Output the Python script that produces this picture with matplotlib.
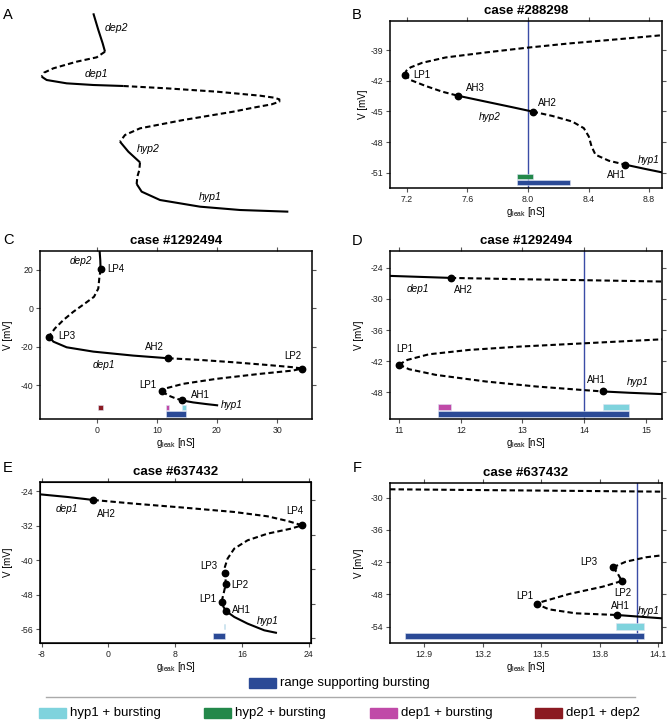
import matplotlib
matplotlib.use('Agg')
import matplotlib.pyplot as plt
from matplotlib.patches import Rectangle
from matplotlib.lines import Line2D

plt.rcParams['font.family'] = ['Liberation Sans', 'DejaVu Sans']
plt.rcParams['mathtext.fontset'] = 'custom'
plt.rcParams['mathtext.rm'] = 'Liberation Sans'
plt.rcParams['mathtext.it'] = 'Liberation Sans:italic'

# ---------------- data ----------------
# Panel A (schematic, arbitrary units)
A_dep2_x = [280, 295, 308, 315]; A_dep2_y = [40, 90, 130, 155]
A_u1_x = [315, 290, 230, 160, 132, 125]; A_u1_y = [155, 172, 185, 205, 218, 230]
A_dep1_x = [125, 140, 200, 280, 370]; A_dep1_y = [230, 240, 250, 255, 258]
A_u2_x = [370, 500, 650, 780, 822, 838, 838, 815, 760, 700, 550, 420, 375, 360]
A_u2_y = [258, 265, 275, 287, 293, 298, 305, 313, 323, 335, 360, 385, 405, 425]
A_hyp2_x = [360, 385, 410, 420]; A_hyp2_y = [425, 455, 478, 487]
A_u3_x = [420, 418, 412, 410]; A_u3_y = [487, 510, 530, 552]
A_hyp1_x = [410, 425, 480, 600, 720, 865]; A_hyp1_y = [552, 575, 600, 620, 630, 635]

# Panel B: case #288298
B_up_g = [7.187, 7.198, 7.226, 7.303, 7.457, 7.721, 7.991, 8.270, 8.600, 8.885]
B_up_v = [-41.41, -41.02, -40.69, -40.24, -39.72, -39.23, -38.77, -38.35, -37.93, -37.54]
B_lo_g = [7.187, 7.226, 7.325, 7.435, 7.536]
B_lo_v = [-41.41, -41.93, -42.51, -43.07, -43.46]
B_hyp2_g = [7.536, 7.721, 7.897, 8.031]
B_hyp2_v = [-43.46, -44.04, -44.59, -45.02]
B_mid_g = [8.031, 8.160, 8.292, 8.369, 8.402, 8.420, 8.446, 8.534, 8.644]
B_mid_v = [-45.02, -45.44, -45.99, -46.64, -47.46, -48.43, -49.24, -49.83, -50.22]
B_hyp1_g = [8.644, 8.776, 8.885]
B_hyp1_v = [-50.22, -50.64, -50.97]
B_pt_names = ['LP1', 'AH3', 'AH2', 'AH1']
B_pt_g = [7.187, 7.536, 8.031, 8.644]
B_pt_v = [-41.41, -43.46, -45.02, -50.22]
B_lab_g = [7.297, 7.655, 8.132, 8.582]
B_lab_v = [-41.41, -42.71, -44.14, -51.20]
B_br_names = ['hyp2', 'hyp1']
B_br_g = [7.747, 8.798]
B_br_v = [-45.5, -49.8]
B_bar_cat = ['hyp2', 'burst']
B_bar_g0 = [7.925, 7.925]; B_bar_g1 = [8.035, 8.277]
B_bar_v0 = [-51.10, -51.72]; B_bar_v1 = [-51.59, -52.24]
B_vline = 8.0

# Panel C: case #1292494
C_dep2_g = [0.50, 0.61, 0.66]
C_dep2_v = [29.83, 25.0, 20.34]
C_u1_g = [0.66, 0.44, 0.28, -0.44, -1.94, -3.87, -5.53, -6.92, -7.75, -7.86]
C_u1_v = [20.34, 15.52, 10.34, 6.03, 2.59, -1.72, -6.03, -10.34, -13.79, -14.66]
C_dep1_g = [-7.86, -7.19, -4.98, -0.55, 6.09, 11.90]
C_dep1_v = [-14.66, -17.24, -20.17, -22.41, -24.48, -25.86]
C_u2_g = [11.90, 17.16, 22.69, 28.22, 32.65, 34.09, 32.65, 27.12, 19.92, 14.39, 11.62, 10.90]
C_u2_v = [-25.86, -26.72, -27.93, -29.31, -30.52, -31.21, -32.24, -33.97, -36.55, -39.14, -41.38, -43.10]
C_u3_g = [10.90, 11.90, 13.01, 14.22]
C_u3_v = [-43.10, -45.17, -46.55, -47.76]
C_hyp1_g = [14.22, 16.05, 18.26, 20.20]
C_hyp1_v = [-47.76, -48.79, -49.66, -50.34]
C_pt_names = ['LP4', 'LP3', 'AH2', 'LP2', 'LP1', 'AH1']
C_pt_g = [0.66, -7.86, 11.90, 34.09, 10.90, 14.22]
C_pt_v = [20.34, -14.66, -25.86, -31.21, -43.10, -47.76]
C_lab_g = [3.21, -4.98, 9.57, 32.65, 8.47, 17.21]
C_lab_v = [20.34, -14.31, -20.17, -24.66, -39.66, -45.17]
C_br_names = ['dep2', 'dep1', 'hyp1']
C_br_g = [-2.60, 1.27, 22.52]
C_br_v = [24.66, -29.31, -50.34]
C_bar_cat = ['dep12', 'dep1', 'hyp1', 'burst']
C_bar_g0 = [0.17, 11.45, 14.22, 11.45]; C_bar_g1 = [0.99, 11.95, 14.78, 14.78]
C_bar_v0 = [-50.34, -50.0, -50.0, -53.45]; C_bar_v1 = [-52.93, -52.6, -52.6, -56.38]

# Panel D: case #1292494 (zoom)
D_dep1_g = [10.854, 11.838]
D_dep1_v = [-25.54, -25.93]
D_u1_g = [11.838, 12.946, 14.0, 15.26]
D_u1_v = [-25.93, -26.18, -26.37, -26.63]
D_u2_g = [11.0, 11.135, 11.486, 12.135, 12.946, 14.0, 15.26]
D_u2_v = [-42.68, -41.78, -40.69, -39.85, -39.21, -38.57, -37.80]
D_u3_g = [11.0, 11.162, 11.595, 12.405, 13.216, 14.0, 14.308]
D_u3_v = [-42.68, -43.58, -44.67, -45.95, -46.91, -47.62, -47.88]
D_hyp1_g = [14.308, 14.730, 15.26]
D_hyp1_v = [-47.88, -48.13, -48.39]
D_pt_names = ['AH2', 'LP1', 'AH1']
D_pt_g = [11.838, 11.0, 14.308]
D_pt_v = [-25.93, -42.68, -47.88]
D_lab_g = [12.038, 11.097, 14.19]
D_lab_v = [-28.30, -39.66, -45.63]
D_br_names = ['dep1', 'hyp1']
D_br_g = [11.308, 14.865]
D_br_v = [-28.17, -46.02]
D_bar_cat = ['dep1', 'hyp1', 'burst']
D_bar_g0 = [11.638, 14.308, 11.638]; D_bar_g1 = [11.838, 14.73, 14.73]
D_bar_v0 = [-50.38, -50.38, -51.73]; D_bar_v1 = [-51.41, -51.41, -52.82]
D_vline = 14.0

# Panel E: case #637432
E_dep1_g = [-8.2, -4.92, -1.8]
E_dep1_v = [-24.70, -25.31, -26.01]
E_u1_g = [-1.8, 3.08, 9.08, 15.08, 19.08, 21.48, 23.2, 21.88, 19.08, 16.68, 15.08, 14.28,
          13.96, 13.96, 14.08, 13.8, 13.56, 13.8, 14.08]
E_u1_v = [-26.01, -26.86, -27.79, -28.79, -29.80, -30.88, -31.88, -32.66, -33.81, -35.36,
          -37.29, -39.61, -41.54, -42.86, -45.41, -47.73, -49.66, -50.82, -51.74]
E_hyp1_g = [14.08, 15.08, 16.68, 18.68, 20.2]
E_hyp1_v = [-51.74, -53.13, -54.68, -56.23, -56.84]
E_pt_names = ['AH2', 'LP4', 'LP3', 'LP2', 'LP1', 'AH1']
E_pt_g = [-1.8, 23.2, 13.96, 14.08, 13.56, 14.08]
E_pt_v = [-26.01, -31.88, -42.86, -45.41, -49.66, -51.74]
E_lab_g = [-0.2, 22.28, 12.08, 15.8, 11.96, 15.96]
E_lab_v = [-29.33, -28.64, -41.39, -45.64, -48.88, -51.43]
E_br_names = ['dep1', 'hyp1']
E_br_g = [-5.0, 19.08]
E_br_v = [-28.1, -54.06]
E_bar_cat = ['hyp1', 'burst']
E_bar_g0 = [13.84, 12.52]; E_bar_g1 = [13.96, 13.96]
E_bar_v0 = [-54.68, -56.84]; E_bar_v1 = [-56.0, -58.31]

# Panel F: case #637432 (zoom)
F_top_g = [12.724, 13.4, 14.12]
F_top_v = [-28.44, -28.65, -28.88]
F_u1_g = [13.869, 13.934, 14.037, 14.12]
F_u1_v = [-42.95, -41.91, -41.09, -40.72]
F_u2_g = [13.869, 13.892, 13.914, 13.815, 13.643, 13.506, 13.477, 13.540, 13.677, 13.888]
F_u2_v = [-42.95, -44.07, -45.50, -46.56, -47.92, -49.35, -49.78, -50.77, -51.51, -51.82]
F_hyp1_g = [13.888, 14.12]
F_hyp1_v = [-51.82, -52.44]
F_pt_names = ['LP3', 'LP2', 'LP1', 'AH1']
F_pt_g = [13.869, 13.914, 13.477, 13.888]
F_pt_v = [-42.95, -45.50, -49.78, -51.82]
F_lab_g = [13.746, 13.917, 13.416, 13.905]
F_lab_v = [-41.91, -47.79, -48.29, -50.09]
F_br_names = ['hyp1']
F_br_g = [14.054]
F_br_v = [-51.02]
F_bar_cat = ['hyp1', 'burst']
F_bar_g0 = [13.883, 12.801]; F_bar_g1 = [14.028, 14.028]
F_bar_v0 = [-53.37, -55.12]; F_bar_v1 = [-54.61, -56.34]
F_vline = 13.99

legend_cats = ['hyp1', 'hyp2', 'dep1', 'dep12']
legend_labels = ['hyp1 + bursting', 'hyp2 + bursting', 'dep1 + bursting', 'dep1 + dep2']
burst_label = 'range supporting bursting'

# ---------------- style ----------------
COL = {'burst': '#2b4a96', 'hyp1': '#7fd3dd', 'hyp2': '#23884a',
       'dep1': '#c04aa8', 'dep12': '#8b1a22'}
VLINE_COL = '#3a4ca6'
LW = 1.5
DASH = (0, (2.6, 1.5))

W, H = 672, 723
fig = plt.figure(figsize=(W / 100, H / 100), dpi=100)


def ax_px(l, t, r, b):
    return fig.add_axes([l / W, 1 - b / H, (r - l) / W, (b - t) / H])


def line(ax, g, v, stable):
    ax.plot(g, v, color='black', lw=LW, ls='-' if stable else DASH,
            solid_capstyle='butt', dash_capstyle='butt', zorder=3)


def setup(ax, xlim, ylim, xticks, xtl, yticks, title, ylab_x_px, left_px):
    ax.set_xlim(*xlim)
    ax.set_ylim(*ylim)
    ax.set_xticks(xticks)
    ax.set_xticklabels(xtl)
    ax.set_yticks(yticks)
    ax.set_yticklabels([str(t) for t in yticks])
    ax.tick_params(direction='out', length=3, width=0.8, top=True, right=True,
                   labelsize=6.3, pad=2, color='#555555', labelcolor='#222222')
    for s in ax.spines.values():
        s.set_linewidth(1.1)
    ax.set_title(title, fontsize=9.5, fontweight='bold', pad=5)
    ax.set_xlabel(r'g$_{\mathrm{leak}}$ [nS]', fontsize=7, labelpad=1)
    ax.set_ylabel('V [mV]', fontsize=7)
    ax.yaxis.set_label_coords((ylab_x_px - left_px) / 272.0, 0.5)


def decorate(ax, pt_names, pt_g, pt_v, lab_g, lab_v, br_names, br_g, br_v,
             bar_cat, g0, g1, v0, v1, vline=None):
    ax.plot(pt_g, pt_v, 'o', color='black', ms=4.6, zorder=5)
    for n, x, y in zip(pt_names, lab_g, lab_v):
        ax.text(x, y, n, fontsize=7, ha='center', va='center', zorder=6)
    for n, x, y in zip(br_names, br_g, br_v):
        ax.text(x, y, n, fontsize=7.2, style='italic', ha='center', va='center', zorder=6)
    for c, a, b, lo, hi in zip(bar_cat, g0, g1, v0, v1):
        ax.barh((lo + hi) / 2, b - a, left=a, height=abs(hi - lo), color=COL[c],
                edgecolor='#dde4f2', linewidth=0.4, zorder=2)
    if vline is not None:
        ax.axvline(vline, color=VLINE_COL, lw=1.0, zorder=1)


# ---------------- Panel A ----------------
axA = ax_px(0, 0, 336, 240)
axA.set_xlim(0, 1008)
axA.set_ylim(720, 0)
axA.axis('off')
line(axA, A_dep2_x, A_dep2_y, True)
line(axA, A_u1_x, A_u1_y, False)
line(axA, A_dep1_x, A_dep1_y, True)
line(axA, A_u2_x, A_u2_y, False)
line(axA, A_hyp2_x, A_hyp2_y, True)
line(axA, A_u3_x, A_u3_y, False)
line(axA, A_hyp1_x, A_hyp1_y, True)
for n, x, y in zip(['dep2', 'dep1', 'hyp2', 'hyp1'], [348, 290, 445, 630], [85, 222, 448, 590]):
    axA.text(x, y, n, fontsize=7.6, style='italic', ha='center', va='center')

# ---------------- Panel B ----------------
axB = ax_px(390, 21, 662, 188)
line(axB, B_up_g, B_up_v, False)
line(axB, B_lo_g, B_lo_v, False)
line(axB, B_hyp2_g, B_hyp2_v, True)
line(axB, B_mid_g, B_mid_v, False)
line(axB, B_hyp1_g, B_hyp1_v, True)
decorate(axB, B_pt_names, B_pt_g, B_pt_v, B_lab_g, B_lab_v, B_br_names, B_br_g, B_br_v,
         B_bar_cat, B_bar_g0, B_bar_g1, B_bar_v0, B_bar_v1, B_vline)
setup(axB, (7.09, 8.885), (-52.5, -36.15), [7.2, 7.6, 8.0, 8.4, 8.8],
      ['7.2', '7.6', '8.0', '8.4', '8.8'], [-39, -42, -45, -48, -51], 'case #288298', 368, 390)

# ---------------- Panel C ----------------
axC = ax_px(40, 251, 312, 419)
line(axC, C_dep2_g, C_dep2_v, True)
line(axC, C_u1_g, C_u1_v, False)
line(axC, C_dep1_g, C_dep1_v, True)
line(axC, C_u2_g, C_u2_v, False)
line(axC, C_u3_g, C_u3_v, False)
line(axC, C_hyp1_g, C_hyp1_v, True)
decorate(axC, C_pt_names, C_pt_g, C_pt_v, C_lab_g, C_lab_v, C_br_names, C_br_g, C_br_v,
         C_bar_cat, C_bar_g0, C_bar_g1, C_bar_v0, C_bar_v1)
setup(axC, (-9.41, 35.8), (-57.4, 29.83), [0, 10, 20, 30], ['0', '10', '20', '30'],
      [20, 0, -20, -40], 'case #1292494', 13, 40)

# ---------------- Panel D ----------------
axD = ax_px(390, 251, 662, 419)
line(axD, D_dep1_g, D_dep1_v, True)
line(axD, D_u1_g, D_u1_v, False)
line(axD, D_u2_g, D_u2_v, False)
line(axD, D_u3_g, D_u3_v, False)
line(axD, D_hyp1_g, D_hyp1_v, True)
decorate(axD, D_pt_names, D_pt_g, D_pt_v, D_lab_g, D_lab_v, D_br_names, D_br_g, D_br_v,
         D_bar_cat, D_bar_g0, D_bar_g1, D_bar_v0, D_bar_v1, D_vline)
setup(axD, (10.854, 15.26), (-53.2, -20.73), [11, 12, 13, 14, 15],
      ['11', '12', '13', '14', '15'], [-24, -30, -36, -42, -48], 'case #1292494', 364, 390)

# ---------------- Panel E ----------------
axE = ax_px(40, 482, 311, 643)
line(axE, E_dep1_g, E_dep1_v, True)
line(axE, E_u1_g, E_u1_v, False)
line(axE, E_hyp1_g, E_hyp1_v, True)
decorate(axE, E_pt_names, E_pt_g, E_pt_v, E_lab_g, E_lab_v, E_br_names, E_br_g, E_br_v,
         E_bar_cat, E_bar_g0, E_bar_g1, E_bar_v0, E_bar_v1)
setup(axE, (-8.2, 24.28), (-59.17, -21.84), [-8, 0, 8, 16, 24],
      ['-8', '0', '8', '16', '24'], [-24, -32, -40, -48, -56], 'case #637432', 13, 40)
axE.tick_params(right=False)
axE2 = axE.twinx()
axE2.set_ylim(-59.17 + 2.1, -21.84 + 2.1)
axE2.set_yticks([-24, -32, -40, -48, -56])
axE2.tick_params(direction='out', length=3, width=0.8, labelright=False, color='#555555')

# ---------------- Panel F ----------------
axF = ax_px(390, 483, 662, 643)
line(axF, F_top_g, F_top_v, False)
line(axF, F_u1_g, F_u1_v, False)
line(axF, F_u2_g, F_u2_v, False)
line(axF, F_hyp1_g, F_hyp1_v, True)
decorate(axF, F_pt_names, F_pt_g, F_pt_v, F_lab_g, F_lab_v, F_br_names, F_br_g, F_br_v,
         F_bar_cat, F_bar_g0, F_bar_g1, F_bar_v0, F_bar_v1, F_vline)
setup(axF, (12.724, 14.12), (-57.03, -27.27), [12.9, 13.2, 13.5, 13.8, 14.1],
      ['12.9', '13.2', '13.5', '13.8', '14.1'], [-30, -36, -42, -48, -54], 'case #637432', 364, 390)

# ---------------- panel letters ----------------
for L, x, y in [('A', 8, 15), ('B', 357, 15), ('C', 8, 240), ('D', 357, 241),
                ('E', 8, 468), ('F', 357, 468)]:
    fig.text(x / W, 1 - y / H, L, fontsize=10.5, ha='center', va='center')

# ---------------- legend ----------------
def fig_rect(x, y, w, h, color):
    fig.patches.append(Rectangle((x / W, 1 - (y + h / 2) / H), w / W, h / H,
                                 transform=fig.transFigure, color=color, figure=fig))

fig_rect(249, 683, 27, 10, COL['burst'])
fig.text(280 / W, 1 - 683 / H, burst_label, fontsize=9.5, ha='left', va='center')
fig.add_artist(Line2D([46 / W, 635 / W], [1 - 697 / H, 1 - 697 / H], color='#aaaaaa', lw=1.0,
                      transform=fig.transFigure))
for i, (cat, lab) in enumerate(zip(legend_cats, legend_labels)):
    x0 = [39, 204, 370, 535][i]
    fig_rect(x0, 713, 27, 10, COL[cat])
    fig.text((x0 + 31) / W, 1 - 713 / H, lab, fontsize=9.5, ha='left', va='center')

fig.savefig('out.png', dpi=100)
